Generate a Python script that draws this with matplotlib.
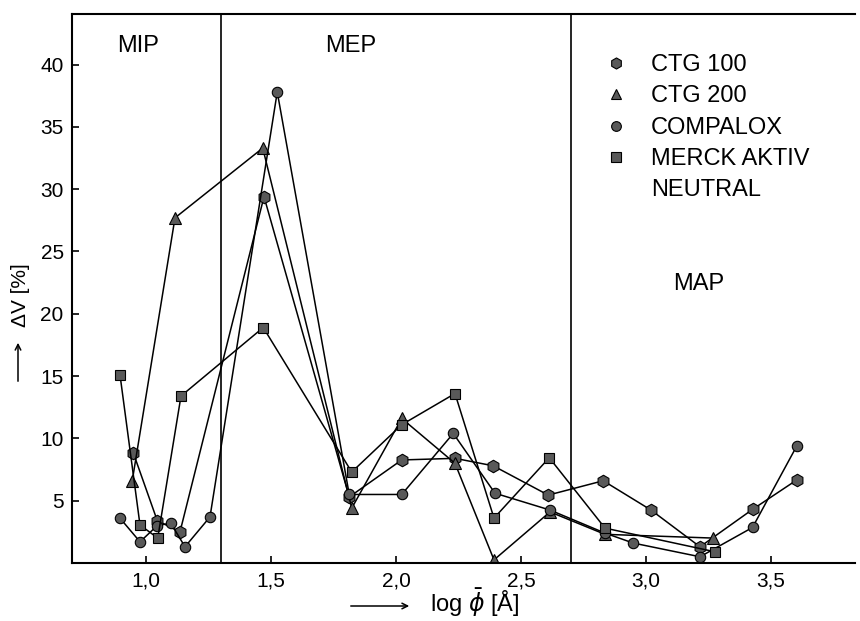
# Delta V vs log pore diameter - CTG 100 / CTG 200 / Compalox / Merck aktiv neutral
import matplotlib.pyplot as plt
from matplotlib.lines import Line2D

plt.rcParams['font.family'] = ['Liberation Sans', 'DejaVu Sans']
plt.rcParams['mathtext.fontset'] = 'dejavusans'

# values (x = log d, y = dV in %)
x_ctg100 = [0.949, 1.045, 1.136, 1.472, 1.813, 2.023, 2.236, 2.389, 2.609, 2.829, 3.020, 3.216, 3.426, 3.602]
y_ctg100 = [8.85, 3.4, 2.5, 29.4, 5.3, 8.27, 8.4, 7.8, 5.45, 6.6, 4.25, 1.3, 4.3, 6.65]

x_ctg200 = [0.945, 1.116, 1.467, 1.823, 2.023, 2.236, 2.392, 2.616, 2.836, 3.269]
y_ctg200 = [6.6, 27.7, 33.3, 4.4, 11.6, 8.0, 0.25, 4.1, 2.3, 2.0]

x_compalox = [0.896, 0.976, 1.045, 1.099, 1.156, 1.256, 1.525, 1.813, 2.023, 2.229,
              2.396, 2.616, 2.836, 2.949, 3.216, 3.426, 3.602]
y_compalox = [3.6, 1.7, 3.0, 3.2, 1.3, 3.7, 37.8, 5.5, 5.5, 10.4,
              5.6, 4.25, 2.4, 1.6, 0.5, 2.85, 9.35]

x_merck = [0.896, 0.976, 1.047, 1.140, 1.469, 1.823, 2.023, 2.236, 2.392, 2.613, 2.836, 3.276]
y_merck = [15.1, 3.05, 2.0, 13.4, 18.9, 7.3, 11.1, 13.6, 3.6, 8.45, 2.8, 0.9]

region_bounds = [1.3, 2.7]
regions = ["MIP", "MEP", "MAP"]
xticks = [1.0, 1.5, 2.0, 2.5, 3.0, 3.5]
xtick_labels = ["1,0", "1,5", "2,0", "2,5", "3,0", "3,5"]
yticks = [5, 10, 15, 20, 25, 30, 35, 40]

fig = plt.figure(figsize=(8.6, 6.21), dpi=100)
ax = fig.add_axes([72/860, 1 - 563/621, 783/860, 549/621])

fill = "#595959"
style = dict(color="black", lw=1.1, markerfacecolor=fill, markeredgecolor="black",
             markeredgewidth=0.8)
ax.plot(x_ctg100, y_ctg100, marker="h", markersize=9, **style)
ax.plot(x_ctg200, y_ctg200, marker="^", markersize=8.5, **style)
ax.plot(x_compalox, y_compalox, marker="o", markersize=7.5, **style)
ax.plot(x_merck, y_merck, marker="s", markersize=7.5, **style)

for b in region_bounds:
    ax.axvline(b, color="black", lw=1.2)

ax.text(0.968, 41.5, regions[0], fontsize=17, ha="center", va="center")
ax.text(1.82, 41.5, regions[1], fontsize=17, ha="center", va="center")
ax.text(3.212, 22.4, regions[2], fontsize=17, ha="center", va="center")

ax.set_xlim(0.704, 3.836)
ax.set_ylim(0, 44.06)
ax.set_xticks(xticks)
ax.set_xticklabels(xtick_labels)
ax.set_yticks(yticks)
ax.tick_params(direction="in", length=5, width=1.2, labelsize=15, pad=6)
ax.spines["right"].set_visible(False)
for s in ["left", "bottom", "top"]:
    ax.spines[s].set_linewidth(1.5)

# legend
handles = [Line2D([], [], ls="none", marker=m, markersize=ms, markerfacecolor=fill,
                  markeredgecolor="black", markeredgewidth=0.8)
           for m, ms in [("h", 8), ("^", 7.5), ("o", 7), ("s", 7)]]
labels = ["CTG 100", "CTG 200", "COMPALOX", "MERCK AKTIV"]
fig.legend(handles, labels, loc="upper left", bbox_to_anchor=(604/860, 1 - 54/621),
           frameon=False, fontsize=17, handlelength=1.0, handletextpad=1.0,
           labelspacing=0.4, borderpad=0, borderaxespad=0)
fig.text(651/860, 1 - 190/621, "NEUTRAL", fontsize=17, ha="left", va="center")

# axis labels with arrows
fig.text(430/860, 1 - 603/621, r"log $\bar{\phi}$ [Å]", fontsize=17, ha="left", va="center")
ax.annotate("", xy=(412, 621 - 606), xytext=(348, 621 - 606), xycoords="figure pixels",
            textcoords="figure pixels", arrowprops=dict(arrowstyle="->", lw=1.1))
fig.text(20/860, 1 - 295/621, "ΔV [%]", fontsize=15, rotation=90, ha="center", va="center")
ax.annotate("", xy=(18, 621 - 340), xytext=(18, 621 - 384), xycoords="figure pixels",
            textcoords="figure pixels", arrowprops=dict(arrowstyle="->", lw=1.1))

fig.savefig("out.png", dpi=100)
